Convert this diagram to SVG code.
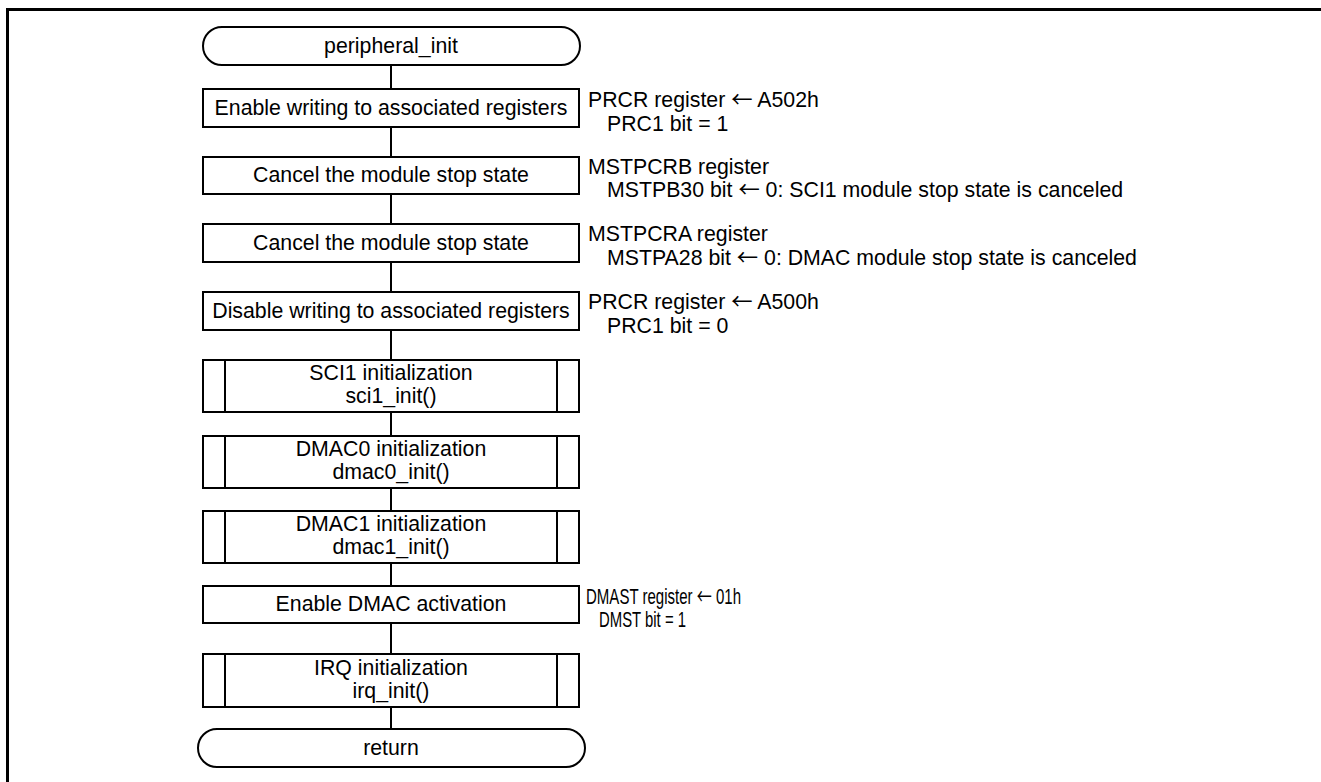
<svg xmlns="http://www.w3.org/2000/svg" width="1321" height="782" viewBox="0 0 1321 782">
  <style>
    .shape { fill: #ffffff; stroke: #000000; stroke-width: 2; }
    .bar { fill: none; stroke: #000000; stroke-width: 2; }
    .link { fill: none; stroke: #000000; stroke-width: 2; }
    .frame { fill: none; stroke: #000000; stroke-width: 3; }
    text { font-family: "Liberation Sans", Arial, sans-serif; font-size: 21.3px; fill: #000000; }
    .c { text-anchor: middle; }
    .arw { font-family: "Noto Sans CJK JP", "DejaVu Sans", sans-serif; }
  </style>

  <!-- outer frame (top and left rules) -->
  <path class="frame" d="M7.5,782 V9.5 H1321"/>

  <!-- flow line through all steps -->
  <g id="connectors">
    <line class="link" x1="391" y1="65" x2="391" y2="89"/>
    <line class="link" x1="391" y1="127" x2="391" y2="157"/>
    <line class="link" x1="391" y1="194" x2="391" y2="224"/>
    <line class="link" x1="391" y1="262" x2="391" y2="292"/>
    <line class="link" x1="391" y1="330" x2="391" y2="360"/>
    <line class="link" x1="391" y1="412" x2="391" y2="436"/>
    <line class="link" x1="391" y1="488" x2="391" y2="511"/>
    <line class="link" x1="391" y1="563" x2="391" y2="586"/>
    <line class="link" x1="391" y1="623" x2="391" y2="654"/>
    <line class="link" x1="391" y1="707" x2="391" y2="729"/>
  </g>

  <g id="start">
    <rect class="shape" x="203" y="27" width="377" height="38" rx="19" ry="19"/>
    <text class="c" x="391" y="53">peripheral_init</text>
  </g>

  <g id="enable-write">
    <rect class="shape" x="203" y="89" width="376" height="38"/>
    <text class="c" x="391" y="115">Enable writing to associated registers</text>
    <text x="588" y="107">PRCR register <tspan class="arw">←</tspan> A502h</text>
    <text x="607" y="131">PRC1 bit = 1</text>
  </g>

  <g id="cancel-stop-sci1">
    <rect class="shape" x="203" y="157" width="376" height="37"/>
    <text class="c" x="391" y="182">Cancel the module stop state</text>
    <text x="588" y="174">MSTPCRB register</text>
    <text x="607" y="197">MSTPB30 bit <tspan class="arw">←</tspan> 0: SCI1 module stop state is canceled</text>
  </g>

  <g id="cancel-stop-dmac">
    <rect class="shape" x="203" y="224" width="376" height="38"/>
    <text class="c" x="391" y="250">Cancel the module stop state</text>
    <text x="588" y="241">MSTPCRA register</text>
    <text x="607" y="265">MSTPA28 bit <tspan class="arw">←</tspan> 0: DMAC module stop state is canceled</text>
  </g>

  <g id="disable-write">
    <rect class="shape" x="203" y="292" width="376" height="38"/>
    <text class="c" x="391" y="318">Disable writing to associated registers</text>
    <text x="588" y="309">PRCR register <tspan class="arw">←</tspan> A500h</text>
    <text x="607" y="333">PRC1 bit = 0</text>
  </g>

  <g id="sci1-init">
    <rect class="shape" x="203" y="360" width="376" height="52"/>
    <line class="bar" x1="225" y1="360" x2="225" y2="412"/>
    <line class="bar" x1="557" y1="360" x2="557" y2="412"/>
    <text class="c" x="391" y="380">SCI1 initialization</text>
    <text class="c" x="391" y="403">sci1_init()</text>
  </g>

  <g id="dmac0-init">
    <rect class="shape" x="203" y="436" width="376" height="52"/>
    <line class="bar" x1="225" y1="436" x2="225" y2="488"/>
    <line class="bar" x1="557" y1="436" x2="557" y2="488"/>
    <text class="c" x="391" y="456">DMAC0 initialization</text>
    <text class="c" x="391" y="479">dmac0_init()</text>
  </g>

  <g id="dmac1-init">
    <rect class="shape" x="203" y="511" width="376" height="52"/>
    <line class="bar" x1="225" y1="511" x2="225" y2="563"/>
    <line class="bar" x1="557" y1="511" x2="557" y2="563"/>
    <text class="c" x="391" y="531">DMAC1 initialization</text>
    <text class="c" x="391" y="554">dmac1_init()</text>
  </g>

  <g id="enable-dmac">
    <rect class="shape" x="203" y="586" width="376" height="37"/>
    <text class="c" x="391" y="611">Enable DMAC activation</text>
    <text x="586" y="604" textLength="155" lengthAdjust="spacingAndGlyphs">DMAST register <tspan class="arw">←</tspan> 01h</text>
    <text x="599" y="627" textLength="87" lengthAdjust="spacingAndGlyphs">DMST bit = 1</text>
  </g>

  <g id="irq-init">
    <rect class="shape" x="203" y="654" width="376" height="53"/>
    <line class="bar" x1="225" y1="654" x2="225" y2="707"/>
    <line class="bar" x1="557" y1="654" x2="557" y2="707"/>
    <text class="c" x="391" y="675">IRQ initialization</text>
    <text class="c" x="391" y="698">irq_init()</text>
  </g>

  <g id="end">
    <rect class="shape" x="198" y="729" width="387" height="38" rx="19" ry="19"/>
    <text class="c" x="391" y="755">return</text>
  </g>
</svg>
